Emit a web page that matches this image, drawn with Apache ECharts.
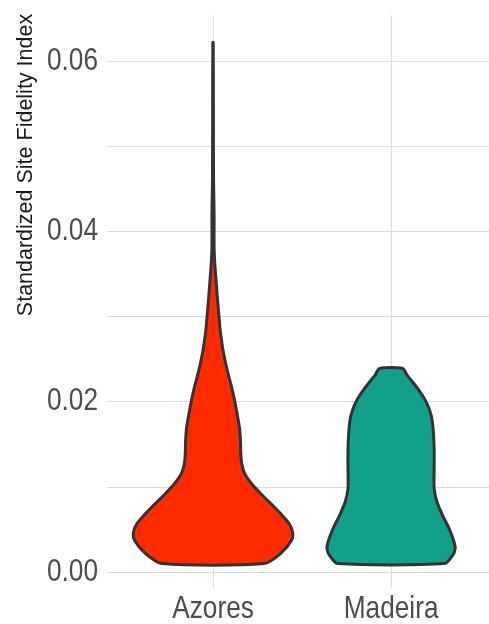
<!DOCTYPE html>
<html><head><meta charset="utf-8">
<script src="https://cdn.jsdelivr.net/npm/echarts@6/dist/echarts.min.js"></script>
<style>html,body{margin:0;padding:0;background:#fff}#c{width:489px;height:624px}</style>
</head><body><div id="c"></div>
<script>
// ---- data ----
const categories = ['Azores', 'Madeira'];
const yTickLabels = [0, 0.02, 0.04, 0.06];
const yGridValues = [0, 0.01, 0.02, 0.03, 0.04, 0.05, 0.06];
const yAxisTitle = 'Standardized Site Fidelity Index';

// violin outlines: y value and half-width (in category units)
const azoresY = [0.00099, 0.00216, 0.00372, 0.0047, 0.00569, 0.00686, 0.00804, 0.00921, 0.01039, 0.01156, 0.01274, 0.01391, 0.01547, 0.01703, 0.01861, 0.02017, 0.02173, 0.02331, 0.02487, 0.02643, 0.02722, 0.0284, 0.03036, 0.03231, 0.03427, 0.03620, 0.03818, 0.04214, 0.04602, 0.05541, 0.0622];
const azoresHalfWidth = [0.287, 0.379, 0.441, 0.447, 0.427, 0.379, 0.324, 0.267, 0.216, 0.178, 0.161, 0.156, 0.154, 0.148, 0.135, 0.121, 0.104, 0.084, 0.067, 0.053, 0.048, 0.040, 0.032, 0.024, 0.017, 0.010, 0.006, 0.006, 0.003, 0.002, 0.001];
const madeiraY = [0.00099, 0.00196, 0.00275, 0.00352, 0.0051, 0.00666, 0.00822, 0.0098, 0.01215, 0.0145, 0.01685, 0.01841, 0.01997, 0.02155, 0.02311, 0.0239];
const madeiraHalfWidth = [0.301, 0.346, 0.360, 0.354, 0.326, 0.289, 0.258, 0.242, 0.242, 0.242, 0.236, 0.225, 0.197, 0.149, 0.090, 0.065];
const fillColors = ['#FF2A00', '#12A08A'];

const profiles = [
  { y: azoresY, w: azoresHalfWidth },
  { y: madeiraY, w: madeiraHalfWidth }
];

const labelFont = "'Liberation Sans',Arial,sans-serif";
const chart = echarts.init(document.getElementById('c'), null, { renderer: 'canvas' });

const option = {
  animation: false,
  backgroundColor: '#ffffff',
  grid: { left: 107, right: 0, top: 15, bottom: 36, containLabel: false },
  xAxis: {
    type: 'value',
    min: 0.4045, max: 2.55,
    axisLine: { show: false },
    axisTick: { show: false, customValues: [1, 2] },
    splitLine: { show: true, lineStyle: { color: '#dcdcdc', width: 1.2 } },
    axisLabel: { show: false, customValues: [1, 2] }
  },
  yAxis: {
    type: 'value',
    min: -0.00188, max: 0.0654,
    axisLine: { show: false },
    axisTick: { show: false, customValues: yGridValues },
    splitLine: { show: true, lineStyle: { color: '#dcdcdc', width: 1.2 } },
    axisLabel: { show: false, customValues: yTickLabels }
  },
  series: [{
    type: 'custom',
    coordinateSystem: 'cartesian2d',
    data: categories.map((c, i) => ({ name: c, value: [i + 1, 0] })),
    encode: { x: 0, y: 1 },
    renderItem: function (params, api) {
      const i = params.dataIndex;
      const cx = api.value(0);
      const p = profiles[i];
      const pts = [];
      for (let k = 0; k < p.y.length; k++) pts.push(api.coord([cx + p.w[k], p.y[k]]));
      for (let k = p.y.length - 1; k >= 0; k--) pts.push(api.coord([cx - p.w[k], p.y[k]]));
      return {
        type: 'polygon',
        shape: { points: pts, smooth: 0.25 },
        style: { fill: fillColors[i], stroke: '#333333', lineWidth: 3, lineJoin: 'round' }
      };
    }
  }]
};
chart.setOption(option);

// axis labels placed through the axes' own scales (narrow rendering like the reference)
const graphics = [{
  type: 'text', x: 26, y: 165, rotation: Math.PI / 2,
  style: {
    text: yAxisTitle, fontSize: 21.5, fontFamily: labelFont,
    fill: '#1a1a1a', align: 'center', verticalAlign: 'middle'
  }
}];
yTickLabels.forEach(v => {
  const py = chart.convertToPixel({ gridIndex: 0 }, [1, v])[1];
  graphics.push({
    type: 'text', x: 98, y: py, scaleX: 0.82,
    style: { text: v.toFixed(2), fontSize: 32, fontFamily: labelFont, fill: '#4d4d4d', align: 'right', verticalAlign: 'middle' }
  });
});
categories.forEach((c, i) => {
  const px = chart.convertToPixel({ gridIndex: 0 }, [i + 1, 0])[0];
  graphics.push({
    type: 'text', x: px, y: 609, scaleX: 0.82,
    style: { text: c, fontSize: 32, fontFamily: labelFont, fill: '#4d4d4d', align: 'center', verticalAlign: 'middle' }
  });
});
chart.setOption({ graphic: graphics });
</script>
</body></html>
